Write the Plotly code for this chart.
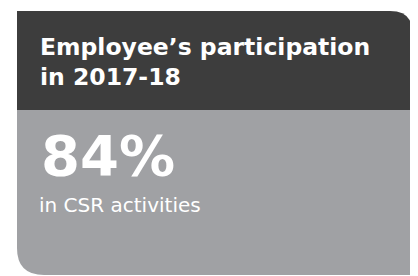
import plotly.graph_objects as go

title_lines = ["Employee’s participation", "in 2017-18"]
value = 84
value_suffix = "%"
label = "in CSR activities"

W, H = 418, 276
OFF = 8  # browser body margin
dark = "#3d3d3d"
gray = "#a0a1a4"

fig = go.Figure()
fig.update_layout(
    width=W - OFF, height=H - OFF, margin=dict(l=0, r=0, t=0, b=0),
    paper_bgcolor="white", plot_bgcolor="white",
    xaxis=dict(range=[OFF, W], visible=False, fixedrange=True),
    yaxis=dict(range=[H, OFF], visible=False, fixedrange=True),
    showlegend=False,
)
fig.add_shape(type="path", path="M17,11 L390,11 Q413,11 413,34 L413,110 L17,110 Z",
              fillcolor=dark, line=dict(width=0), layer="below")
fig.add_shape(type="path", path="M17,110 L413,110 L413,275 L44,275 Q17,275 17,248 Z",
              fillcolor=gray, line=dict(width=0), layer="below")

for i, t in enumerate(title_lines):
    fig.add_annotation(x=38, y=31 + i * 30, text=t, showarrow=False,
                       xanchor="left", yanchor="top", xref="x", yref="y",
                       font=dict(family="DejaVu Sans", size=23.5, color="white", weight="bold"))
fig.add_annotation(x=39, y=121, text=f"{value}{value_suffix}", showarrow=False,
                   xanchor="left", yanchor="top", xref="x", yref="y",
                   font=dict(family="DejaVu Sans", size=56, color="white", weight="bold"))
fig.add_annotation(x=37, y=191, text=label, showarrow=False,
                   xanchor="left", yanchor="top", xref="x", yref="y",
                   font=dict(family="DejaVu Sans", size=20, color="white", weight="normal"))

fig.write_html("out.html")
